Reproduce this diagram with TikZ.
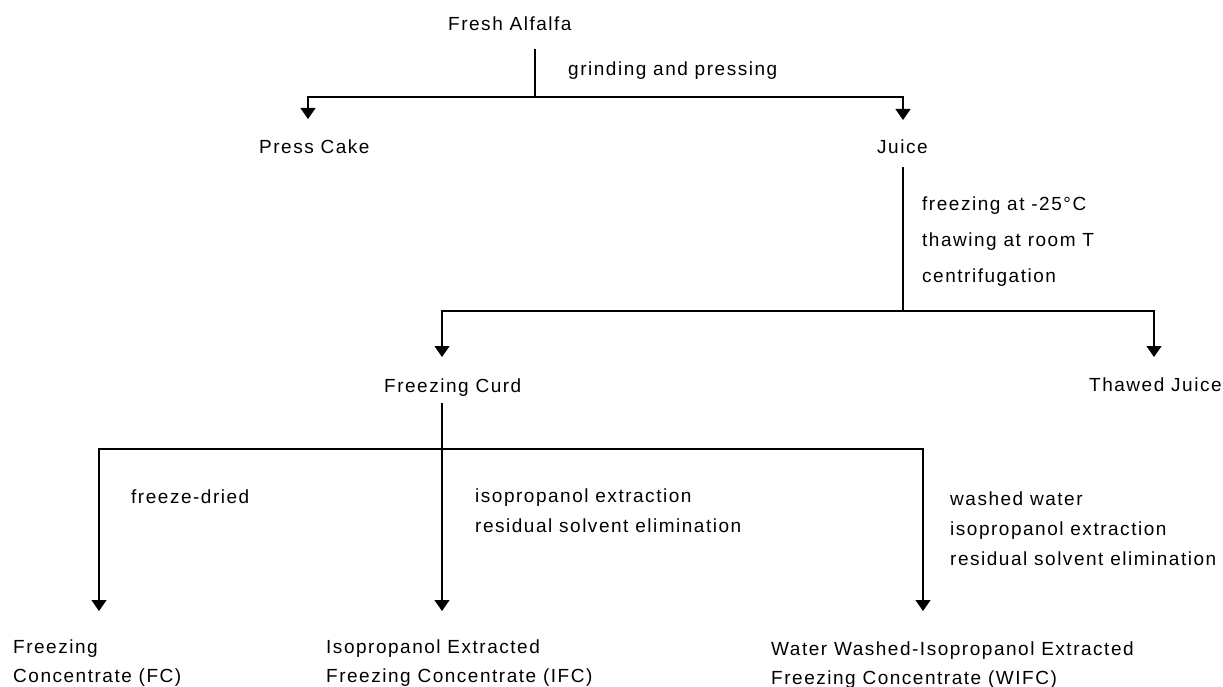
\documentclass[tikz,border=0pt]{standalone}
\usepackage{fontspec}
\setmainfont{Liberation Sans}[LetterSpace=8]
\usetikzlibrary{arrows.meta}
\begin{document}
\begin{tikzpicture}[x=1pt,y=-1pt,
  lbl/.style={anchor=base west,inner sep=0pt,align=left,font=\fontsize{19}{29}\selectfont},
  ln/.style={line width=1.2pt},
  arr/.style={line width=1.2pt,-{Triangle[width=15pt,length=11pt]}}]
\useasboundingbox (0,0) rectangle (1223,687);
% nodes (multi-line nodes are placed by the baseline of their last line)
\node[lbl] (fa) at (448,31) {Fresh Alfalfa};
\node[lbl] (gp) at (568,76) {grinding and pressing};
\node[lbl] (pc) at (259,154) {Press Cake};
\node[lbl] (ju) at (877,154) {Juice};
\node[lbl,font=\fontsize{19}{36}\selectfont] (fz) at (922,282) {freezing at -25°C\\thawing at room T\\centrifugation};
\node[lbl] (fcu) at (384,392) {Freezing Curd};
\node[lbl] (tj) at (1089,391) {Thawed Juice};
\node[lbl] (fd) at (131,503) {freeze-dried};
\node[lbl,font=\fontsize{19}{29.5}\selectfont] (ie) at (475,532) {isopropanol extraction\\residual solvent elimination};
\node[lbl,font=\fontsize{19}{30}\selectfont] (ww) at (950,565) {washed water\\isopropanol extraction\\residual solvent elimination};
\node[lbl] (fc) at (13,682) {Freezing\\Concentrate (FC)};
\node[lbl] (ifc) at (326,682) {Isopropanol Extracted\\Freezing Concentrate (IFC)};
\node[lbl] (wifc) at (771,684) {Water Washed-Isopropanol Extracted\\Freezing Concentrate (WIFC)};
% junction and tip coordinates
\coordinate (s1) at (535,49);
\coordinate (b1) at (535,97);
\coordinate (t1) at (308,119);
\coordinate (t2) at (903,120);
\coordinate (s2) at (903,167);
\coordinate (b2) at (903,311);
\coordinate (t3) at (442,357);
\coordinate (t4) at (1154,357);
\coordinate (s3) at (442,403);
\coordinate (b3) at (442,449);
\coordinate (t5) at (99,611);
\coordinate (t6) at (442,611);
\coordinate (t7) at (923,611);
% connectors
\draw[ln] (s1) -- (b1);
\draw[arr] (b1) -| (t1);
\draw[arr] (b1) -| (t2);
\draw[ln] (s2) -- (b2);
\draw[arr] (b2) -| (t3);
\draw[arr] (b2) -| (t4);
\draw[arr] (s3) -- (t6);
\draw[arr] (b3) -| (t5);
\draw[arr] (b3) -| (t7);
\end{tikzpicture}
\end{document}
